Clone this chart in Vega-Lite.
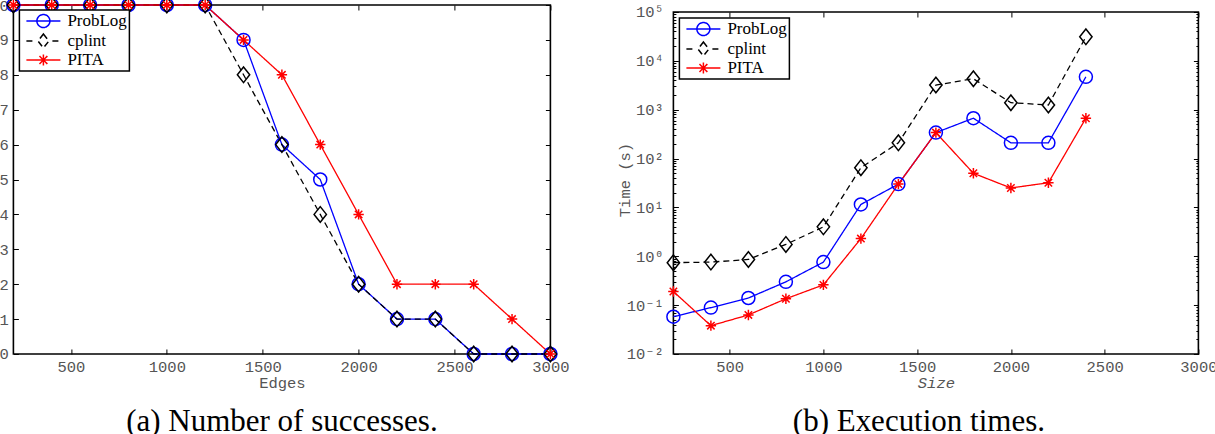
{
  "$schema": "https://vega.github.io/schema/vega-lite/v6.json",
  "background": "white",
  "padding": {"left": -10.6, "top": -6, "right": 0, "bottom": 0},
  "datasets": {
    "succ": [
      {"e": 200, "n": 10, "s": "ProbLog"}, {"e": 400, "n": 10, "s": "ProbLog"}, {"e": 600, "n": 10, "s": "ProbLog"},
      {"e": 800, "n": 10, "s": "ProbLog"}, {"e": 1000, "n": 10, "s": "ProbLog"}, {"e": 1200, "n": 10, "s": "ProbLog"},
      {"e": 1400, "n": 9, "s": "ProbLog"}, {"e": 1600, "n": 6, "s": "ProbLog"}, {"e": 1800, "n": 5, "s": "ProbLog"},
      {"e": 2000, "n": 2, "s": "ProbLog"}, {"e": 2200, "n": 1, "s": "ProbLog"}, {"e": 2400, "n": 1, "s": "ProbLog"},
      {"e": 2600, "n": 0, "s": "ProbLog"}, {"e": 2800, "n": 0, "s": "ProbLog"}, {"e": 3000, "n": 0, "s": "ProbLog"},
      {"e": 200, "n": 10, "s": "cplint"}, {"e": 400, "n": 10, "s": "cplint"}, {"e": 600, "n": 10, "s": "cplint"},
      {"e": 800, "n": 10, "s": "cplint"}, {"e": 1000, "n": 10, "s": "cplint"}, {"e": 1200, "n": 10, "s": "cplint"},
      {"e": 1400, "n": 8, "s": "cplint"}, {"e": 1600, "n": 6, "s": "cplint"}, {"e": 1800, "n": 4, "s": "cplint"},
      {"e": 2000, "n": 2, "s": "cplint"}, {"e": 2200, "n": 1, "s": "cplint"}, {"e": 2400, "n": 1, "s": "cplint"},
      {"e": 2600, "n": 0, "s": "cplint"}, {"e": 2800, "n": 0, "s": "cplint"}, {"e": 3000, "n": 0, "s": "cplint"},
      {"e": 200, "n": 10, "s": "PITA"}, {"e": 400, "n": 10, "s": "PITA"}, {"e": 600, "n": 10, "s": "PITA"},
      {"e": 800, "n": 10, "s": "PITA"}, {"e": 1000, "n": 10, "s": "PITA"}, {"e": 1200, "n": 10, "s": "PITA"},
      {"e": 1400, "n": 9, "s": "PITA"}, {"e": 1600, "n": 8, "s": "PITA"}, {"e": 1800, "n": 6, "s": "PITA"},
      {"e": 2000, "n": 4, "s": "PITA"}, {"e": 2200, "n": 2, "s": "PITA"}, {"e": 2400, "n": 2, "s": "PITA"},
      {"e": 2600, "n": 2, "s": "PITA"}, {"e": 2800, "n": 1, "s": "PITA"}, {"e": 3000, "n": 0, "s": "PITA"}
    ],
    "time": [
      {"z": 200, "t": 0.058, "s": "ProbLog"}, {"z": 400, "t": 0.089, "s": "ProbLog"}, {"z": 600, "t": 0.14, "s": "ProbLog"},
      {"z": 800, "t": 0.30, "s": "ProbLog"}, {"z": 1000, "t": 0.76, "s": "ProbLog"}, {"z": 1200, "t": 11.5, "s": "ProbLog"},
      {"z": 1400, "t": 30, "s": "ProbLog"}, {"z": 1600, "t": 340, "s": "ProbLog"}, {"z": 1800, "t": 670, "s": "ProbLog"},
      {"z": 2000, "t": 210, "s": "ProbLog"}, {"z": 2200, "t": 210, "s": "ProbLog"}, {"z": 2400, "t": 4700, "s": "ProbLog"},
      {"z": 200, "t": 0.74, "s": "cplint"}, {"z": 400, "t": 0.76, "s": "cplint"}, {"z": 600, "t": 0.86, "s": "cplint"},
      {"z": 800, "t": 1.75, "s": "cplint"}, {"z": 1000, "t": 4.0, "s": "cplint"}, {"z": 1200, "t": 65, "s": "cplint"},
      {"z": 1400, "t": 210, "s": "cplint"}, {"z": 1600, "t": 3200, "s": "cplint"}, {"z": 1800, "t": 4300, "s": "cplint"},
      {"z": 2000, "t": 1390, "s": "cplint"}, {"z": 2200, "t": 1250, "s": "cplint"}, {"z": 2400, "t": 31000, "s": "cplint"},
      {"z": 200, "t": 0.19, "s": "PITA"}, {"z": 400, "t": 0.038, "s": "PITA"}, {"z": 600, "t": 0.063, "s": "PITA"},
      {"z": 800, "t": 0.135, "s": "PITA"}, {"z": 1000, "t": 0.26, "s": "PITA"}, {"z": 1200, "t": 2.3, "s": "PITA"},
      {"z": 1400, "t": 30, "s": "PITA"}, {"z": 1600, "t": 340, "s": "PITA"}, {"z": 1800, "t": 50, "s": "PITA"},
      {"z": 2000, "t": 25, "s": "PITA"}, {"z": 2200, "t": 32, "s": "PITA"}, {"z": 2400, "t": 670, "s": "PITA"}
    ]
  },
  "config": {
    "view": {"stroke": null},
    "axis": {
      "labelFont": "Liberation Mono, DejaVu Sans Mono", "labelFontSize": 15.5, "labelColor": "#555555",
      "titleFont": "Liberation Mono, DejaVu Sans Mono", "titleFontSize": 15.5, "titleColor": "#555555",
      "titleFontWeight": "normal", "tickColor": "black", "tickWidth": 1, "grid": false, "domain": false,
      "labelFlush": false
    },
    "legend": {
      "labelFont": "Liberation Serif", "labelFontSize": 17, "labelColor": "black", "labelOffset": 28,
      "padding": 2, "rowPadding": 0, "strokeColor": "black", "fillColor": "white", "symbolSize": 256,
      "symbolStrokeWidth": 1.5
    }
  },
  "spacing": 123,
  "bounds": "flush",
  "resolve": {
    "scale": {"color": "independent", "strokeDash": "independent"},
    "legend": {"color": "independent"}
  },
  "hconcat": [
    {
      "width": 537,
      "height": 349,
      "title": {"text": "(a) Number of successes.", "orient": "bottom", "anchor": "middle", "frame": "group",
        "font": "Liberation Serif", "fontSize": 31, "fontWeight": "normal", "color": "black", "offset": 16},
      "layer": [
        {
          "data": {"values": [{"k": 1}]},
          "mark": {"type": "rect", "fillOpacity": 0, "stroke": "black", "strokeWidth": 1.6},
          "encoding": {
            "x": {"datum": 200, "type": "quantitative", "scale": {"domain": [200, 3000], "nice": false},
              "axis": {"orient": "top", "values": [500, 1000, 1500, 2000, 2500, 3000], "labels": false, "tickSize": -5, "title": null}},
            "x2": {"datum": 3000},
            "y": {"datum": 0, "type": "quantitative", "scale": {"domain": [0, 10], "nice": false},
              "axis": {"orient": "right", "values": [0, 1, 2, 3, 4, 5, 6, 7, 8, 9, 10], "labels": false, "tickSize": -5, "title": null}},
            "y2": {"datum": 10}
          }
        },
        {
          "data": {"name": "succ"},
          "mark": {"type": "line", "strokeWidth": 1.3},
          "encoding": {
            "x": {"field": "e", "type": "quantitative",
              "axis": {"orient": "bottom", "values": [500, 1000, 1500, 2000, 2500, 3000], "format": "d", "tickSize": -5, "labelPadding": 10.5, "title": "Edges", "titlePadding": 1}},
            "y": {"field": "n", "type": "quantitative",
              "axis": {"orient": "left", "values": [0, 1, 2, 3, 4, 5, 6, 7, 8, 9, 10], "tickSize": -5, "labelPadding": 10, "title": null}},
            "color": {"field": "s", "type": "nominal",
              "scale": {"domain": ["ProbLog", "cplint", "PITA"], "range": ["#0000ff", "#000000", "#ff0000"]},
              "legend": {"title": null, "orient": "none", "legendX": 6, "legendY": 5,
                "encode": {
                  "symbols": {"update": {
                    "shape": {"signal": "datum.value === 'ProbLog' ? 'M-0.5,0H3.75M2.4375,0A0.8125,0.8125 0 1,1 0.8125,0A0.8125,0.8125 0 1,1 2.4375,0Z' : datum.value === 'cplint' ? 'M-0.5,0H0.5M2.75,0H3.75M1.625,-0.875L2.3125,0L1.625,0.875L0.9375,0Z' : 'M-0.5,0H3.75M1.625,-0.69V0.69M0.935,0H2.315M1.135,-0.49L2.115,0.49M1.135,0.49L2.115,-0.49'"},
                    "fill": {"value": "transparent"},
                    "strokeWidth": {"value": 1.5}
                  }},
                  "legend": {"update": {"strokeWidth": {"value": 1.5}}}
                }}},
            "strokeDash": {"field": "s", "type": "nominal",
              "scale": {"domain": ["ProbLog", "cplint", "PITA"], "range": [[1, 0], [6, 4], [1, 0]]}, "legend": null}
          }
        },
        {
          "data": {"name": "succ"},
          "transform": [{"filter": "datum.s === 'ProbLog'"}],
          "mark": {"type": "point", "shape": "M1,0A1,1 0 1,1 -1,0A1,1 0 1,1 1,0Z", "filled": false, "size": 169, "strokeWidth": 1.5, "opacity": 1, "color": "#0000ff"},
          "encoding": {
            "x": {"field": "e", "type": "quantitative", "axis": null},
            "y": {"field": "n", "type": "quantitative", "axis": null}
          }
        },
        {
          "data": {"name": "succ"},
          "transform": [{"filter": "datum.s === 'cplint'"}],
          "mark": {"type": "point", "shape": "M0,-1.2L0.95,0L0,1.2L-0.95,0Z", "filled": false, "size": 169, "strokeWidth": 1.5, "opacity": 1, "color": "#000000"},
          "encoding": {
            "x": {"field": "e", "type": "quantitative", "axis": null},
            "y": {"field": "n", "type": "quantitative", "axis": null}
          }
        },
        {
          "data": {"name": "succ"},
          "transform": [{"filter": "datum.s === 'PITA'"}],
          "mark": {"type": "point", "shape": "M0,-0.8V0.8M-0.8,0H0.8M-0.57,-0.57L0.57,0.57M-0.57,0.57L0.57,-0.57", "filled": false, "size": 169, "strokeWidth": 1.5, "opacity": 1, "color": "#ff0000"},
          "encoding": {
            "x": {"field": "e", "type": "quantitative", "axis": null},
            "y": {"field": "n", "type": "quantitative", "axis": null}
          }
        }
      ],
      "resolve": {"axis": {"x": "independent", "y": "independent"}}
    },
    {
      "width": 525,
      "height": 349,
      "title": {"text": "(b) Execution times.", "orient": "bottom", "anchor": "middle", "frame": "group", "dx": -17,
        "font": "Liberation Serif", "fontSize": 31, "fontWeight": "normal", "color": "black", "offset": 16},
      "layer": [
        {
          "data": {"values": [{"k": 1}]},
          "mark": {"type": "rect", "fillOpacity": 0, "stroke": "black", "strokeWidth": 1.6},
          "encoding": {
            "x": {"datum": 200, "type": "quantitative", "scale": {"domain": [200, 3000], "nice": false},
              "axis": {"orient": "top", "offset": -7, "values": [500, 1000, 1500, 2000, 2500, 3000], "labels": false, "tickSize": -5, "title": null}},
            "x2": {"datum": 3000},
            "y": {"datum": 0.01, "type": "quantitative", "scale": {"type": "log", "domain": [0.01, 139000], "nice": false},
              "axis": {"orient": "right", "labels": false, "title": null,
                "values": [0.01, 0.02, 0.03, 0.04, 0.05, 0.06, 0.07, 0.08, 0.09, 0.1, 0.2, 0.3, 0.4, 0.5, 0.6, 0.7, 0.8, 0.9, 1, 2, 3, 4, 5, 6, 7, 8, 9, 10, 20, 30, 40, 50, 60, 70, 80, 90, 100, 200, 300, 400, 500, 600, 700, 800, 900, 1000, 2000, 3000, 4000, 5000, 6000, 7000, 8000, 9000, 10000, 20000, 30000, 40000, 50000, 60000, 70000, 80000, 90000, 100000],
                "tickSize": {"condition": {"test": "indexof([0.01,0.1,1,10,100,1000,10000,100000], datum.value) >= 0", "value": -5}, "value": -2.5}}},
            "y2": {"datum": 100000}
          }
        },
        {
          "data": {"name": "time"},
          "mark": {"type": "line", "strokeWidth": 1.3},
          "encoding": {
            "x": {"field": "z", "type": "quantitative",
              "axis": {"orient": "bottom", "values": [500, 1000, 1500, 2000, 2500, 3000], "format": "d", "tickSize": -5, "labelPadding": 10.5, "title": "Size", "titleFontStyle": "italic", "titlePadding": 1}},
            "y": {"field": "t", "type": "quantitative",
              "axis": {"orient": "left", "title": "Time (s)", "titlePadding": -6, "labelPadding": 15,
                "values": [0.01, 0.02, 0.03, 0.04, 0.05, 0.06, 0.07, 0.08, 0.09, 0.1, 0.2, 0.3, 0.4, 0.5, 0.6, 0.7, 0.8, 0.9, 1, 2, 3, 4, 5, 6, 7, 8, 9, 10, 20, 30, 40, 50, 60, 70, 80, 90, 100, 200, 300, 400, 500, 600, 700, 800, 900, 1000, 2000, 3000, 4000, 5000, 6000, 7000, 8000, 9000, 10000, 20000, 30000, 40000, 50000, 60000, 70000, 80000, 90000, 100000],
                "tickSize": {"condition": {"test": "indexof([0.01,0.1,1,10,100,1000,10000,100000], datum.value) >= 0", "value": -5}, "value": -2.5},
                "labelExpr": "datum.value == 0.01 ? '10⁻²' : datum.value == 0.1 ? '10⁻¹' : datum.value == 1 ? '10⁰' : datum.value == 10 ? '10¹' : datum.value == 100 ? '10²' : datum.value == 1000 ? '10³' : datum.value == 10000 ? '10⁴' : datum.value == 100000 ? '10⁵' : ''"}},
            "color": {"field": "s", "type": "nominal",
              "scale": {"domain": ["ProbLog", "cplint", "PITA"], "range": ["#0000ff", "#000000", "#ff0000"]},
              "legend": {"title": null, "orient": "none", "legendX": 6, "legendY": 13,
                "encode": {
                  "symbols": {"update": {
                    "shape": {"signal": "datum.value === 'ProbLog' ? 'M-0.5,0H3.75M2.4375,0A0.8125,0.8125 0 1,1 0.8125,0A0.8125,0.8125 0 1,1 2.4375,0Z' : datum.value === 'cplint' ? 'M-0.5,0H0.5M2.75,0H3.75M1.625,-0.875L2.3125,0L1.625,0.875L0.9375,0Z' : 'M-0.5,0H3.75M1.625,-0.69V0.69M0.935,0H2.315M1.135,-0.49L2.115,0.49M1.135,0.49L2.115,-0.49'"},
                    "fill": {"value": "transparent"},
                    "strokeWidth": {"value": 1.5}
                  }},
                  "legend": {"update": {"strokeWidth": {"value": 1.5}}}
                }}},
            "strokeDash": {"field": "s", "type": "nominal",
              "scale": {"domain": ["ProbLog", "cplint", "PITA"], "range": [[1, 0], [6, 4], [1, 0]]}, "legend": null}
          }
        },
        {
          "data": {"name": "time"},
          "transform": [{"filter": "datum.s === 'ProbLog'"}],
          "mark": {"type": "point", "shape": "M1,0A1,1 0 1,1 -1,0A1,1 0 1,1 1,0Z", "filled": false, "size": 169, "strokeWidth": 1.5, "opacity": 1, "color": "#0000ff"},
          "encoding": {
            "x": {"field": "z", "type": "quantitative", "axis": null},
            "y": {"field": "t", "type": "quantitative", "axis": null}
          }
        },
        {
          "data": {"name": "time"},
          "transform": [{"filter": "datum.s === 'cplint'"}],
          "mark": {"type": "point", "shape": "M0,-1.2L0.95,0L0,1.2L-0.95,0Z", "filled": false, "size": 169, "strokeWidth": 1.5, "opacity": 1, "color": "#000000"},
          "encoding": {
            "x": {"field": "z", "type": "quantitative", "axis": null},
            "y": {"field": "t", "type": "quantitative", "axis": null}
          }
        },
        {
          "data": {"name": "time"},
          "transform": [{"filter": "datum.s === 'PITA'"}],
          "mark": {"type": "point", "shape": "M0,-0.8V0.8M-0.8,0H0.8M-0.57,-0.57L0.57,0.57M-0.57,0.57L0.57,-0.57", "filled": false, "size": 169, "strokeWidth": 1.5, "opacity": 1, "color": "#ff0000"},
          "encoding": {
            "x": {"field": "z", "type": "quantitative", "axis": null},
            "y": {"field": "t", "type": "quantitative", "axis": null}
          }
        }
      ],
      "resolve": {"axis": {"x": "independent", "y": "independent"}}
    }
  ]
}
